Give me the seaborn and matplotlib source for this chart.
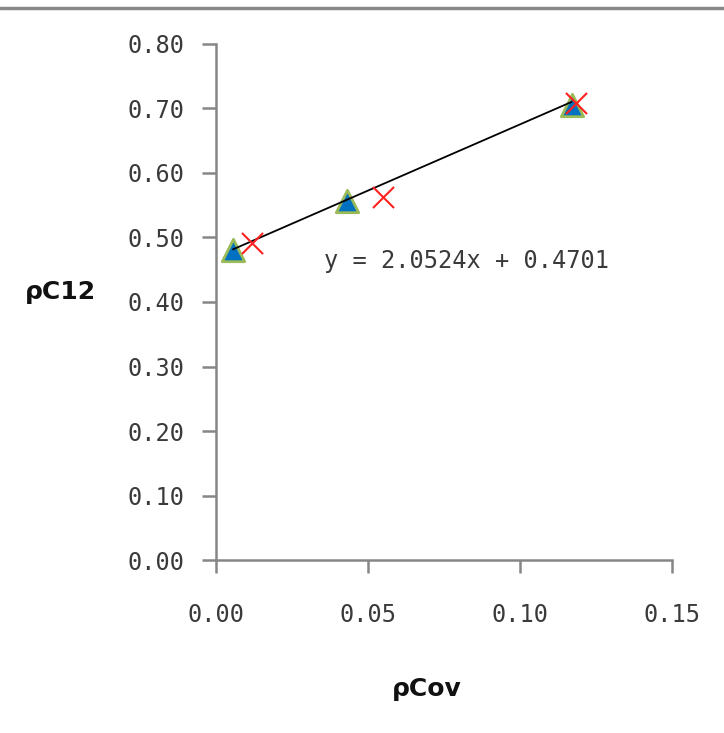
import numpy as np
import pandas as pd
import matplotlib
matplotlib.use("Agg")
import matplotlib.pyplot as plt
from matplotlib.lines import Line2D
import seaborn as sns

# Measured points (triangles) and comparison points (crosses)
cov_measured = [0.0056, 0.043, 0.117]
c12_measured = [0.481, 0.556, 0.706]
cov_other = [0.0118, 0.055, 0.1184]
c12_other = [0.492, 0.563, 0.709]

# Linear trend line shown with its equation
slope = 2.0524
intercept = 0.4701

x_ticks = [0.00, 0.05, 0.10, 0.15]
y_ticks = [0.00, 0.10, 0.20, 0.30, 0.40, 0.50, 0.60, 0.70, 0.80]

sns.set_style("white")
plt.rcParams["font.family"] = ["DejaVu Sans Mono", "DejaVu Sans"]

fig = plt.figure(figsize=(7.24, 7.33), dpi=100)
ax = fig.add_axes([0.2983, 0.236, 0.6299, 0.704])

df_m = pd.DataFrame({"cov": cov_measured, "c12": c12_measured})
df_o = pd.DataFrame({"cov": cov_other, "c12": c12_other})

trend_x = np.array([min(cov_measured), max(cov_measured)])
trend = pd.DataFrame({"cov": trend_x, "c12": slope * trend_x + intercept})
sns.lineplot(data=trend, x="cov", y="c12", ax=ax, color="black", lw=1.3, zorder=4)

sns.scatterplot(data=df_m, x="cov", y="c12", ax=ax, marker="^", s=260,
                color="#0070C0", edgecolor="#9BBB59", linewidth=2, zorder=3)
sns.scatterplot(data=df_o, x="cov", y="c12", ax=ax, marker="x", s=230,
                color="#FF2020", linewidth=1.5, zorder=5)

ax.text(0.0355, 0.4636, f"y = {slope:.4f}x + {intercept:.4f}", fontsize=17,
        va="center", ha="left", color="#3a3a3a")

ax.set_xlim(0, 0.15)
ax.set_ylim(0, 0.80)
ax.set_xticks(x_ticks)
ax.set_yticks(y_ticks)
ax.set_xticklabels([f"{v:.2f}" for v in x_ticks])
ax.set_yticklabels([f"{v:.2f}" for v in y_ticks])

for side in ("top", "right"):
    ax.spines[side].set_visible(False)
for side in ("left", "bottom"):
    ax.spines[side].set_color("#868686")
    ax.spines[side].set_linewidth(1.8)

ax.tick_params(axis="y", direction="out", length=10, width=1.8, color="#868686",
               pad=13, labelsize=17, labelcolor="#3a3a3a", left=True)
ax.tick_params(axis="x", direction="out", length=9, width=1.8, color="#868686",
               pad=22, labelsize=17, labelcolor="#3a3a3a", bottom=True)

ax.set_xlabel("")
ax.set_ylabel("")
fig.text(427 / 724, 1 - 689 / 733, "ρCov", fontsize=18, fontweight="bold",
         family="DejaVu Sans", ha="center", va="center", color="#111111")
fig.text(25 / 724, 1 - 292 / 733, "ρC12", fontsize=18, fontweight="bold",
         family="DejaVu Sans", ha="left", va="center", color="#111111")

# Gray rule across the top of the figure
fig.add_artist(Line2D([0, 1], [1 - 8 / 733, 1 - 8 / 733], transform=fig.transFigure,
                      color="#888888", lw=2.5))

fig.savefig("out.png", dpi=100)
